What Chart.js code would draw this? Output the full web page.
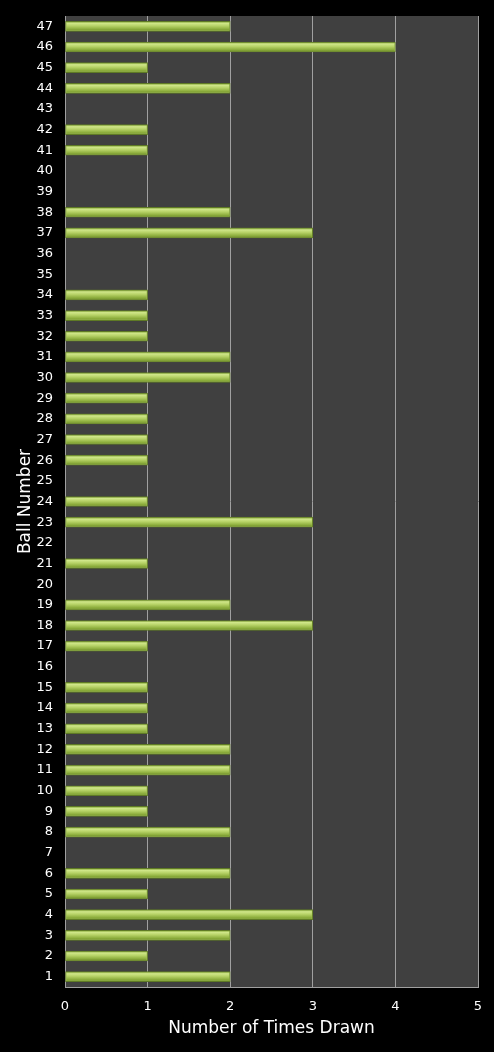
<!DOCTYPE html>
<html>
<head>
<meta charset="utf-8">
<script src="https://cdn.jsdelivr.net/npm/chart.js@4/dist/chart.umd.min.js"></script>
<style>
  html, body { margin: 0; padding: 0; background: #000; }
  #wrap { width: 494px; height: 1052px; }
</style>
</head>
<body>
<div id="wrap"><canvas id="chart"></canvas></div>
<script>
// Ball numbers, top to bottom as in the picture
const balls = [47, 46, 45, 44, 43, 42, 41, 40, 39, 38, 37, 36, 35, 34, 33, 32,
  31, 30, 29, 28, 27, 26, 25, 24, 23, 22, 21, 20, 19, 18, 17, 16, 15, 14, 13,
  12, 11, 10, 9, 8, 7, 6, 5, 4, 3, 2, 1];
// Times drawn for each ball above
const timesDrawn = [2, 4, 1, 2, 0, 1, 1, 0, 0, 2, 3, 0, 0, 1, 1, 1,
  2, 2, 1, 1, 1, 1, 0, 1, 3, 0, 1, 0, 2, 3, 1, 0, 1, 1, 1,
  2, 2, 1, 1, 2, 0, 2, 1, 3, 2, 1, 2];
const xTicks = [0, 1, 2, 3, 4, 5];

const FONT = 'DejaVu Sans, Verdana, sans-serif';

// fond gris de la zone de tracé
const plotBackground = {
  id: 'plotBackground',
  beforeDraw(chart) {
    const { ctx, chartArea: a } = chart;
    ctx.save();
    ctx.fillStyle = '#404040';
    ctx.fillRect(a.left, a.top, a.right - a.left, a.bottom - a.top);
    ctx.restore();
  }
};

// reflet clair sur chaque barre (effet cylindre)
const barShine = {
  id: 'barShine',
  afterDatasetsDraw(chart) {
    const { ctx } = chart;
    const meta = chart.getDatasetMeta(0);
    ctx.save();
    meta.data.forEach(bar => {
      const p = bar.getProps(['x', 'y', 'base', 'height'], true);
      if (p.x - p.base < 2) return;
      const top = p.y - p.height / 2;
      const g = ctx.createLinearGradient(0, top, 0, top + p.height);
      g.addColorStop(0, 'rgba(125,155,50,0.9)');
      g.addColorStop(0.2, 'rgba(210,232,140,0.95)');
      g.addColorStop(0.45, 'rgba(185,212,105,0.9)');
      g.addColorStop(0.8, 'rgba(135,168,55,0.9)');
      g.addColorStop(1, 'rgba(95,120,35,0.95)');
      ctx.fillStyle = g;
      ctx.fillRect(p.base + 1, top + 1, p.x - p.base - 2, p.height - 2);
    });
    ctx.restore();
  }
};

new Chart(document.getElementById('chart'), {
  type: 'bar',
  data: {
    labels: balls,
    datasets: [{
      data: timesDrawn,
      backgroundColor: '#a6c65a',
      borderColor: '#5f7a25',
      borderWidth: 1,
      borderSkipped: false,
      barThickness: 10
    }]
  },
  options: {
    indexAxis: 'y',
    responsive: true,
    maintainAspectRatio: false,
    animation: false,
    layout: { padding: { top: 16, right: 16, left: 0, bottom: 0 } },
    plugins: {
      legend: { display: false },
      tooltip: { enabled: false }
    },
    scales: {
      x: {
        min: 0,
        max: 5,
        afterBuildTicks(axis) { axis.ticks = xTicks.map(v => ({ value: v })); },
        afterFit(axis) { axis.height = 65; axis.paddingLeft = 0; axis.paddingRight = 0; },
        grid: { color: '#a0a0a0', lineWidth: 1, drawTicks: false },
        border: { color: '#a0a0a0' },
        ticks: { color: '#ffffff', font: { family: FONT, size: 13 }, padding: 12 },
        title: {
          display: true,
          text: 'Number of Times Drawn',
          color: '#ffffff',
          font: { family: FONT, size: 17 },
          padding: { top: 0, bottom: 13 }
        }
      },
      y: {
        afterFit(axis) { axis.width = 65; axis.paddingTop = 0; axis.paddingBottom = 0; },
        grid: { display: false, drawTicks: false },
        border: { color: '#a0a0a0' },
        ticks: { color: '#ffffff', font: { family: FONT, size: 13 }, padding: 12, autoSkip: false },
        title: {
          display: true,
          text: 'Ball Number',
          color: '#ffffff',
          font: { family: FONT, size: 17 },
          padding: { top: 15, bottom: 0 }
        }
      }
    }
  },
  plugins: [plotBackground, barShine]
});
</script>
</body>
</html>
